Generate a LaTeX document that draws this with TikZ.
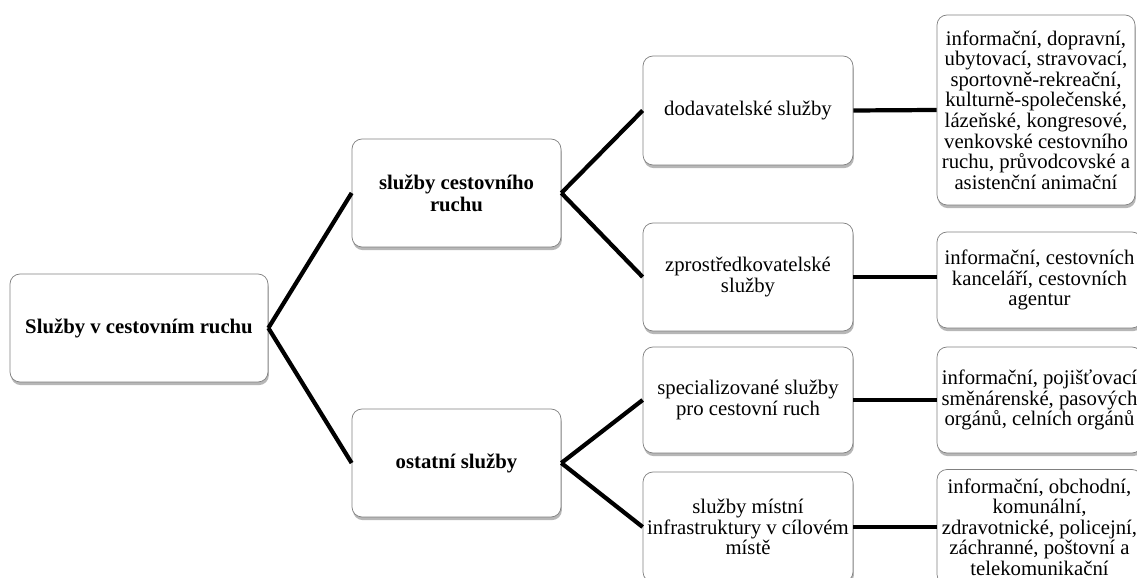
\documentclass[tikz,border=0pt]{standalone}
\usepackage{fontspec}
\setmainfont{Liberation Serif}
\usetikzlibrary{shadows}

\begin{document}
\begin{tikzpicture}[
    box/.style={rectangle, draw=black!50, fill=white, rounded corners=0.2cm, align=center, inner sep=1pt,
      font=\fontsize{11.8}{11.7}\selectfont,
      drop shadow={shadow xshift=0.5pt, shadow yshift=-1.8pt, opacity=0.4, fill=black!70}},
    head/.style={font=\bfseries\fontsize{11.8}{12.5}\selectfont},
    conn/.style={line width=2.4pt}
  ]
    \path[use as bounding box, clip] (0, 0) rectangle (22.74, -11.56);

    % hlavní uzly
    \node[box, head, minimum width=5.16cm, minimum height=2.16cm] (A) at (2.78, -6.56) {Služby v cestovním ruchu};
    \node[box, head, minimum width=4.18cm, minimum height=2.16cm] (B) at (9.13, -3.86) {služby cestovního\\ruchu};
    \node[box, head, minimum width=4.18cm, minimum height=2.16cm] (C) at (9.13, -9.26) {ostatní služby};

    \node[box, minimum width=4.2cm, minimum height=2.18cm] (D) at (14.96, -2.21) {dodavatelské služby};
    \node[box, minimum width=4.2cm, minimum height=2.16cm] (E) at (14.96, -5.54) {zprostředkovatelské\\služby};
    \node[box, minimum width=4.2cm, minimum height=2.12cm] (F) at (14.96, -8.0) {specializované služby\\pro cestovní ruch};
    \node[box, minimum width=4.2cm, minimum height=2.2cm] (G) at (14.96, -10.54) {služby místní\\infrastruktury v cílovém\\místě};

    % výčty služeb
    \node[box, minimum width=3.96cm, minimum height=3.8cm] (D_list) at (20.72, -2.2) {informační, dopravní,\\ubytovací, stravovací,\\sportovně-rekreační,\\kulturně-společenské,\\lázeňské, kongresové,\\venkovské cestovního\\ruchu, průvodcovské a\\asistenční animační};
    \node[box, minimum width=4.1cm, minimum height=1.92cm] (E_list) at (20.79, -5.6) {informační, cestovních\\kanceláří, cestovních\\agentur};
    \node[box, minimum width=4.1cm, minimum height=2.12cm] (F_list) at (20.79, -8.0) {informační, pojišťovací\\směnárenské, pasových\\orgánů, celních orgánů};
    \node[box, minimum width=4.1cm, minimum height=2.3cm] (G_list) at (20.79, -10.54) {informační, obchodní,\\komunální,\\zdravotnické, policejní,\\záchranné, poštovní a\\telekomunikační};

    \draw[conn] (A.east) -- (B.west);
    \draw[conn] (A.east) -- (C.west);
    \draw[conn] (B.east) -- (D.west);
    \draw[conn] (B.east) -- (E.west);
    \draw[conn] (C.east) -- (F.west);
    \draw[conn] (C.east) -- (G.west);
    \draw[conn] (D.east) -- (D_list.west);
    \draw[conn] (E.east) -- (E.east -| E_list.west);
    \draw[conn] (F.east) -- (F_list.west);
    \draw[conn] (G.east) -- (G_list.west);

\end{tikzpicture}
\end{document}
